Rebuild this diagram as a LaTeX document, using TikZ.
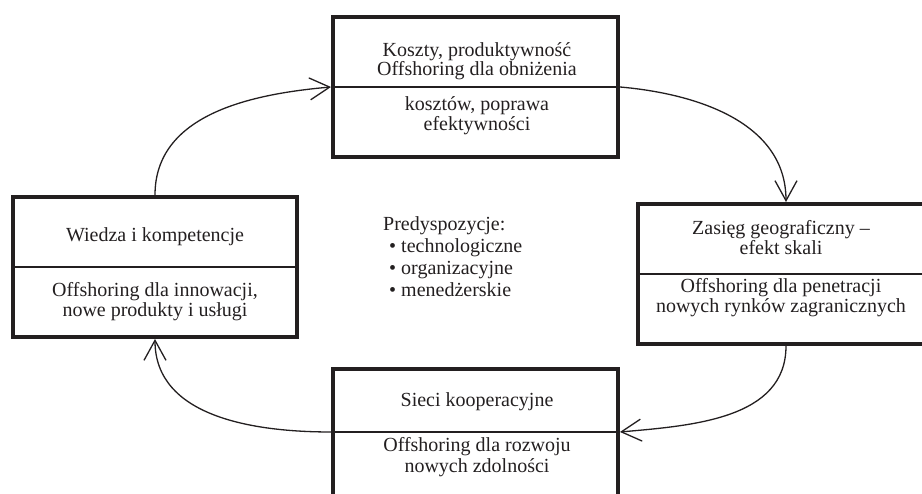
\documentclass[tikz,border=0pt]{standalone}
\usepackage{fontspec}
\setmainfont{Liberation Serif}
\usetikzlibrary{arrows.meta}
\definecolor{ink}{HTML}{231F20}
\begin{document}
\begin{tikzpicture}[x=1pt,y=1pt,
  box/.style={draw=ink, line width=4pt, rectangle, inner sep=0pt, minimum height=140pt},
  divider/.style={draw=ink, line width=1.2pt},
  txt/.style={anchor=base, inner sep=0pt, text=ink, font=\fontsize{20}{20}\selectfont},
  listtxt/.style={anchor=base west, inner sep=0pt, text=ink, font=\fontsize{20}{20}\selectfont},
  flow/.style={draw=ink, line width=1.3pt, -{Straight Barb[length=20pt,width=22pt]}}]
\useasboundingbox (0,0) rectangle (922,494);

% the four boxes of the cycle (right and bottom ones run past the page edge)
\node[box, minimum width=285pt] (T) at (475.5,407) {};
\node[box, minimum width=284pt] (L) at (155,227) {};
\node[box, minimum width=296pt] (R) at (786,220) {};
\node[box, minimum width=285pt, minimum height=132pt] (B) at (475.5,59) {};

% dividers between heading and description
\draw[divider] (T.west) -- (T.east);
\draw[divider] (L.west) -- (L.east);
\draw[divider] (R.west) -- (R.east);
\draw[divider] ([yshift=3pt]B.west) -- ([yshift=3pt]B.east);

% texts of the top box
\node[txt] (t1) at (477,437) {Koszty, produktywność};
\node[txt] (t2) at (477,418) {Offshoring dla obniżenia};
\node[txt] (t3) at (477,383) {kosztów, poprawa};
\node[txt] (t4) at (477,363) {efektywności};

% texts of the left box
\node[txt] (l1) at (155,252) {Wiedza i kompetencje};
\node[txt] (l2) at (155,197) {Offshoring dla innowacji,};
\node[txt] (l3) at (155,177) {nowe produkty i usługi};

% texts of the right box
\node[txt] (r1) at (781,259) {Zasięg geograficzny –};
\node[txt] (r2) at (781,239) {efekt skali};
\node[txt] (r3) at (781,201) {Offshoring dla penetracji};
\node[txt] (r4) at (781,181) {nowych rynków zagranicznych};

% texts of the bottom box
\node[txt] (b1) at (477,87) {Sieci kooperacyjne};
\node[txt] (b2) at (477,42) {Offshoring dla rozwoju};
\node[txt] (b3) at (477,21) {nowych zdolności};

% list in the middle
\node[listtxt] (p0) at (383,263) {Predyspozycje:};
\node[listtxt] (p1) at (389,241) {• technologiczne};
\node[listtxt] (p2) at (389,219) {• organizacyjne};
\node[listtxt] (p3) at (389,197) {• menedżerskie};

% connectors of the cycle
\draw[flow] (L.north) to[out=90,in=185] (T.west);
\draw[flow] (T.east) to[out=-5,in=90] (R.north);
\draw[flow] (R.south) to[out=-90,in=5] ([yshift=3pt]B.east);
\draw[flow] ([yshift=3pt]B.west) to[out=180,in=-90] (L.south);
\end{tikzpicture}
\end{document}
